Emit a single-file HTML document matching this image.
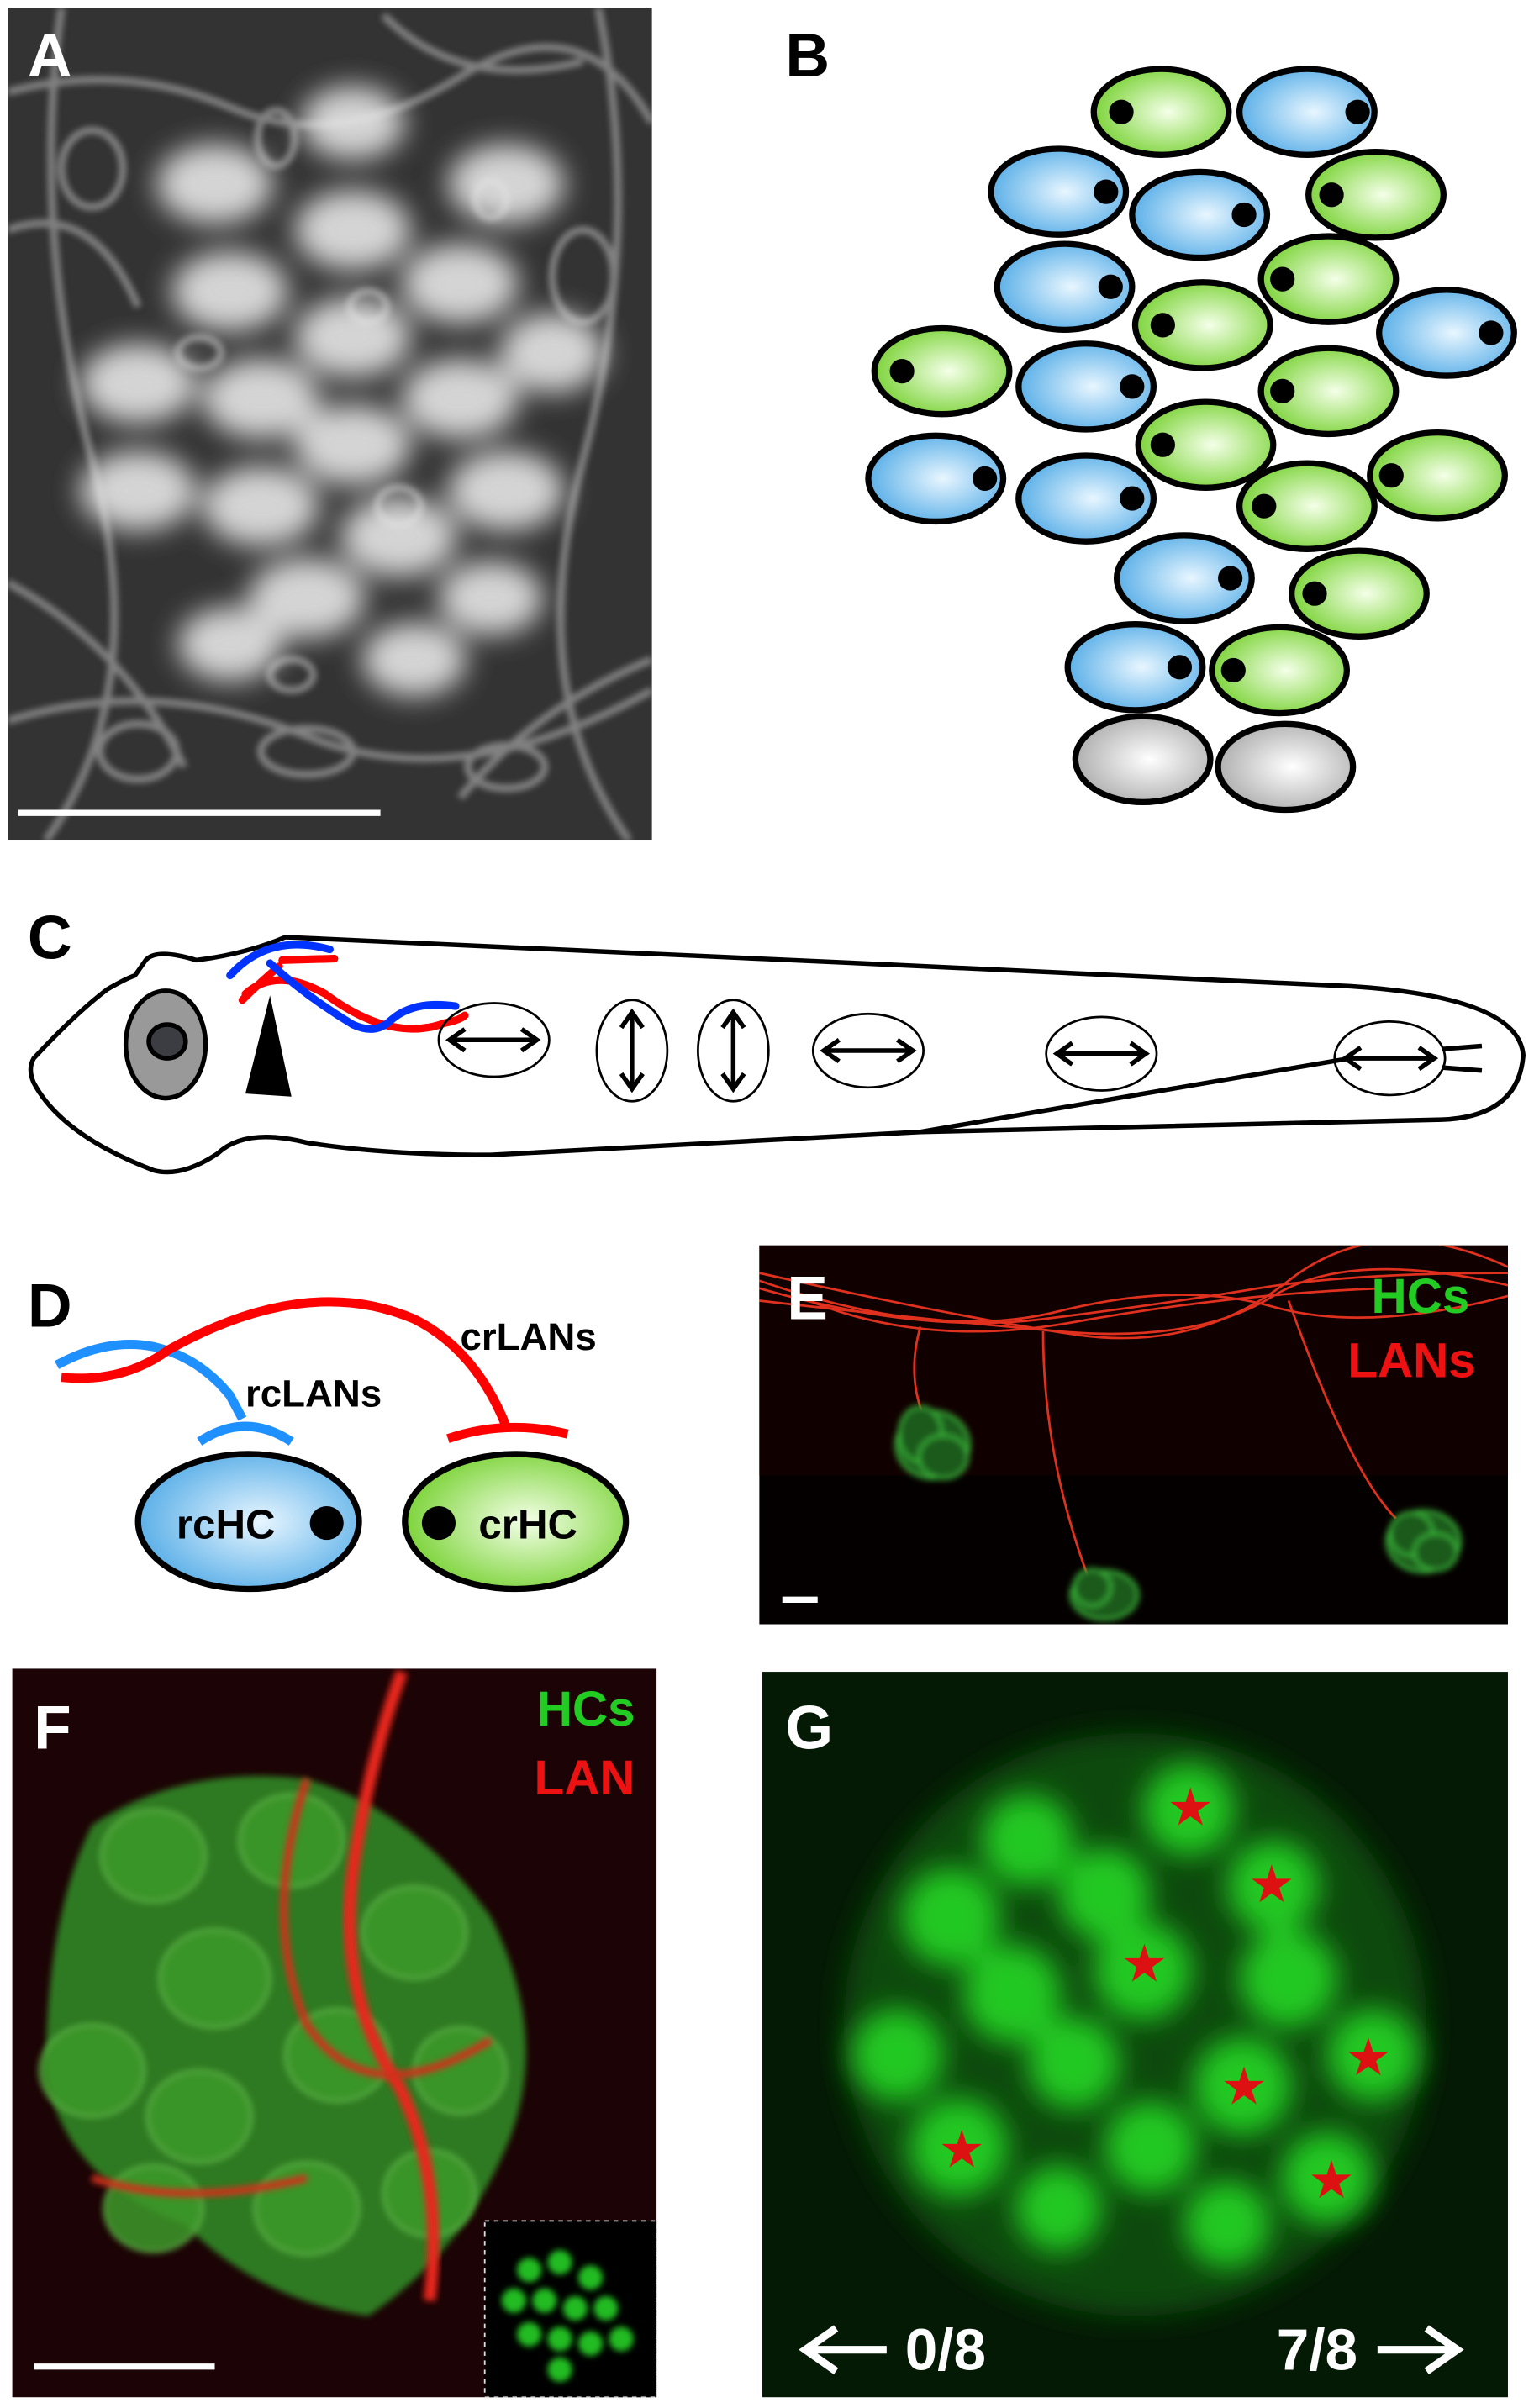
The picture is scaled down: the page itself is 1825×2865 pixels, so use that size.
<!DOCTYPE html>
<html><head><meta charset="utf-8"><style>html,body{margin:0;padding:0;background:#fff}svg{display:block}</style></head><body>
<svg width="1825" height="2865" viewBox="0 0 1000 1570" preserveAspectRatio="none" xmlns="http://www.w3.org/2000/svg" font-family="Liberation Sans, sans-serif">
<defs>
<filter id="bl" x="-20%" y="-20%" width="140%" height="140%"><feGaussianBlur stdDeviation="9"/></filter>
<filter id="bl2"><feGaussianBlur stdDeviation="4"/></filter>
<filter id="bl3"><feGaussianBlur stdDeviation="2"/></filter>
<radialGradient id="gb" cx="0.55" cy="0.5" r="0.55"><stop offset="0" stop-color="#e8f6ff"/><stop offset="1" stop-color="#5cb0e8"/></radialGradient>
<radialGradient id="gg" cx="0.55" cy="0.5" r="0.55"><stop offset="0" stop-color="#f4ffe8"/><stop offset="1" stop-color="#7ed43c"/></radialGradient>
<radialGradient id="gw" cx="0.55" cy="0.5" r="0.55"><stop offset="0" stop-color="#ffffff"/><stop offset="1" stop-color="#b0b0b0"/></radialGradient>
<clipPath id="ca"><rect x="5" y="5" width="420" height="543"/></clipPath>
<clipPath id="cf"><rect x="8" y="1088" width="420" height="475"/></clipPath>
<clipPath id="cg"><rect x="497" y="1090" width="486" height="473"/></clipPath>
<clipPath id="ce"><rect x="495" y="812" width="488" height="247"/></clipPath>
</defs>

<!-- Panel A -->
<rect x="5" y="5" width="420" height="543" fill="#333"/>
<g clip-path="url(#ca)">
<g stroke="#8a8a8a" stroke-width="5" fill="none" filter="url(#bl3)" opacity="0.9">
<path d="M5 60 Q80 40 150 70 T300 50 T425 80"/><path d="M5 470 Q100 440 200 480 T425 450"/>
<path d="M40 5 Q20 150 60 300 T30 548"/><path d="M390 5 Q420 150 380 300 T410 548"/>
<path d="M5 150 Q60 130 90 200"/><path d="M5 380 Q80 420 120 500"/><path d="M300 520 Q350 460 425 430"/>
<path d="M250 10 Q300 60 380 40"/><ellipse cx="200" cy="490" rx="30" ry="15"/><ellipse cx="90" cy="490" rx="25" ry="18"/>
<ellipse cx="330" cy="500" rx="25" ry="14"/><ellipse cx="60" cy="110" rx="20" ry="25"/><ellipse cx="380" cy="180" rx="20" ry="30"/>
<ellipse cx="180" cy="90" rx="12" ry="18"/><ellipse cx="320" cy="130" rx="10" ry="12"/><ellipse cx="240" cy="200" rx="12" ry="10"/>
<ellipse cx="130" cy="230" rx="14" ry="10"/><ellipse cx="260" cy="330" rx="14" ry="12"/><ellipse cx="190" cy="440" rx="14" ry="10"/>
</g>
<g fill="#e6e6e6" filter="url(#bl)" opacity="0.9">
<ellipse cx="230" cy="80" rx="34" ry="24"/><ellipse cx="330" cy="120" rx="38" ry="26"/><ellipse cx="140" cy="120" rx="38" ry="26"/>
<ellipse cx="230" cy="150" rx="38" ry="26"/><ellipse cx="150" cy="190" rx="38" ry="26"/><ellipse cx="300" cy="185" rx="38" ry="26"/>
<ellipse cx="230" cy="220" rx="38" ry="26"/><ellipse cx="90" cy="250" rx="38" ry="26"/><ellipse cx="360" cy="230" rx="34" ry="26"/>
<ellipse cx="170" cy="260" rx="38" ry="26"/><ellipse cx="300" cy="260" rx="38" ry="26"/><ellipse cx="230" cy="290" rx="38" ry="26"/>
<ellipse cx="90" cy="320" rx="38" ry="26"/><ellipse cx="170" cy="330" rx="38" ry="26"/><ellipse cx="330" cy="320" rx="38" ry="26"/>
<ellipse cx="260" cy="350" rx="38" ry="26"/><ellipse cx="200" cy="390" rx="38" ry="26"/><ellipse cx="320" cy="390" rx="34" ry="24"/>
<ellipse cx="150" cy="420" rx="34" ry="24"/><ellipse cx="270" cy="430" rx="34" ry="24"/>
</g>
</g>
<line x1="12" y1="530" x2="248" y2="530" stroke="#fff" stroke-width="4"/>
<text x="18" y="50" font-size="40" font-weight="bold" fill="#fff">A</text>

<!-- Panel B -->
<text x="512" y="50" font-size="40" font-weight="bold">B</text>
<g stroke="#000" stroke-width="4">
<ellipse cx="757" cy="73" rx="44" ry="28" fill="url(#gg)"/><ellipse cx="852" cy="73" rx="44" ry="28" fill="url(#gb)"/>
<ellipse cx="690" cy="125" rx="44" ry="28" fill="url(#gb)"/><ellipse cx="782" cy="140" rx="44" ry="28" fill="url(#gb)"/>
<ellipse cx="897" cy="127" rx="44" ry="28" fill="url(#gg)"/><ellipse cx="694" cy="187" rx="44" ry="28" fill="url(#gb)"/>
<ellipse cx="866" cy="182" rx="44" ry="28" fill="url(#gg)"/><ellipse cx="784" cy="212" rx="44" ry="28" fill="url(#gg)"/>
<ellipse cx="943" cy="217" rx="44" ry="28" fill="url(#gb)"/><ellipse cx="614" cy="242" rx="44" ry="28" fill="url(#gg)"/>
<ellipse cx="708" cy="252" rx="44" ry="28" fill="url(#gb)"/><ellipse cx="866" cy="255" rx="44" ry="28" fill="url(#gg)"/>
<ellipse cx="786" cy="290" rx="44" ry="28" fill="url(#gg)"/><ellipse cx="610" cy="312" rx="44" ry="28" fill="url(#gb)"/>
<ellipse cx="708" cy="325" rx="44" ry="28" fill="url(#gb)"/><ellipse cx="937" cy="310" rx="44" ry="28" fill="url(#gg)"/>
<ellipse cx="852" cy="330" rx="44" ry="28" fill="url(#gg)"/><ellipse cx="772" cy="377" rx="44" ry="28" fill="url(#gb)"/>
<ellipse cx="886" cy="387" rx="44" ry="28" fill="url(#gg)"/><ellipse cx="740" cy="435" rx="44" ry="28" fill="url(#gb)"/>
<ellipse cx="834" cy="437" rx="44" ry="28" fill="url(#gg)"/><ellipse cx="745" cy="495" rx="44" ry="28" fill="url(#gw)"/>
<ellipse cx="838" cy="500" rx="44" ry="28" fill="url(#gw)"/>
</g>
<g fill="#000">
<circle cx="731" cy="73" r="8"/><circle cx="885" cy="73" r="8"/><circle cx="721" cy="125" r="8"/><circle cx="811" cy="140" r="8"/>
<circle cx="868" cy="127" r="8"/><circle cx="724" cy="187" r="8"/><circle cx="836" cy="182" r="8"/><circle cx="758" cy="212" r="8"/>
<circle cx="972" cy="217" r="8"/><circle cx="588" cy="242" r="8"/><circle cx="738" cy="252" r="8"/><circle cx="836" cy="255" r="8"/>
<circle cx="758" cy="290" r="8"/><circle cx="642" cy="312" r="8"/><circle cx="738" cy="325" r="8"/><circle cx="907" cy="310" r="8"/>
<circle cx="824" cy="330" r="8"/><circle cx="802" cy="377" r="8"/><circle cx="857" cy="387" r="8"/><circle cx="769" cy="435" r="8"/>
<circle cx="804" cy="437" r="8"/>
</g>

<!-- Panel C -->
<text x="18" y="625" font-size="40" font-weight="bold">C</text>
<path d="M22 690 Q50 660 70 645 Q82 638 88 636 L95 626 Q102 618 128 626 Q160 622 186 611 L560 628 L880 643 Q990 650 993 688 Q990 728 940 730 L600 738 L320 753 Q250 753 200 745 Q160 735 142 752 Q118 768 100 763 Q40 740 22 706 Q18 697 22 690 Z" fill="none" stroke="#000" stroke-width="3"/>
<path d="M600 738 L880 690" fill="none" stroke="#000" stroke-width="3"/>
<ellipse cx="108" cy="681" rx="26" ry="35" fill="#999" stroke="#000" stroke-width="3"/>
<ellipse cx="109" cy="679" rx="12" ry="11" fill="#3c3d42" stroke="#000" stroke-width="3"/>
<polygon points="176,649 190,715 160,713" fill="#000"/>
<path d="M158 652 Q170 640 182 630 M184 626 L218 625" stroke="#f00" stroke-width="5" fill="none" stroke-linecap="round"/>
<path d="M160 648 Q180 630 212 648 Q255 680 290 667 Q300 665 303 662" stroke="#f00" stroke-width="5" fill="none" stroke-linecap="round"/>
<path d="M150 636 Q175 608 215 619 M176 628 Q200 650 230 668 Q245 675 255 665 Q270 652 297 656" stroke="#03f" stroke-width="5" fill="none" stroke-linecap="round"/>
<g stroke="#000" stroke-width="1.5" fill="none">
<ellipse cx="322" cy="678" rx="36" ry="24"/><ellipse cx="412" cy="685" rx="23" ry="33"/><ellipse cx="478" cy="685" rx="23" ry="33"/>
<ellipse cx="566" cy="685" rx="36" ry="24"/><ellipse cx="718" cy="687" rx="36" ry="24"/><ellipse cx="906" cy="690" rx="36" ry="24"/>
</g>
<g stroke="#000" stroke-width="3" fill="none">
<path d="M293 678 H350 M303 671 L293 678 L303 685 M340 671 L350 678 L340 685"/>
<path d="M412 660 V710 M405 670 L412 660 L419 670 M405 700 L412 710 L419 700"/>
<path d="M478 660 V710 M471 670 L478 660 L485 670 M471 700 L478 710 L485 700"/>
<path d="M537 685 H595 M547 678 L537 685 L547 692 M585 678 L595 685 L585 692"/>
<path d="M689 687 H747 M699 680 L689 687 L699 694 M737 680 L747 687 L737 694"/>
<path d="M877 690 H935 M887 683 L877 690 L887 697 M925 683 L935 690 L925 697"/>
<path d="M940 684 L966 682 M940 696 L966 698"/>
</g>

<!-- Panel D -->
<text x="18" y="865" font-size="40" font-weight="bold">D</text>
<path d="M37 890 Q70 872 100 878 Q130 885 150 910 L158 925" stroke="#1e90ff" stroke-width="6" fill="none"/>
<path d="M130 940 Q160 920 190 940" stroke="#1e90ff" stroke-width="6" fill="none"/>
<path d="M40 898 Q80 902 110 880 Q200 830 270 860 Q310 880 330 930" stroke="#f00" stroke-width="6" fill="none"/>
<path d="M292 938 Q330 925 370 935" stroke="#f00" stroke-width="6" fill="none"/>
<text x="300" y="880" font-size="25" font-weight="bold">crLANs</text>
<text x="160" y="917" font-size="25" font-weight="bold">rcLANs</text>
<ellipse cx="162" cy="992" rx="72" ry="44" fill="url(#gb)" stroke="#000" stroke-width="4"/>
<circle cx="213" cy="993" r="11"/>
<text x="115" y="1003" font-size="27" font-weight="bold">rcHC</text>
<ellipse cx="336" cy="992" rx="72" ry="44" fill="url(#gg)" stroke="#000" stroke-width="4"/>
<circle cx="286" cy="993" r="11"/>
<text x="312" y="1003" font-size="27" font-weight="bold">crHC</text>

<!-- Panel E -->
<rect x="495" y="812" width="488" height="247" fill="#050000"/>
<rect x="495" y="812" width="488" height="150" fill="#110000"/>
<g clip-path="url(#ce)">
<g stroke="#e0301e" stroke-width="1.5" fill="none">
<path d="M495 840 Q600 870 680 860 T820 840 T983 830"/><path d="M495 848 Q600 860 690 868 T830 845 T983 838"/>
<path d="M495 835 Q610 875 690 855 T830 852 T983 845"/><path d="M495 830 Q620 858 700 870 T840 835 T983 826"/>
<path d="M520 845 Q600 880 700 862 T900 840"/>
<path d="M600 865 Q590 900 605 930"/><path d="M680 868 Q680 950 710 1030"/><path d="M840 848 Q880 960 910 990"/>
</g>
<g stroke="#3fc53f" stroke-width="1.5" fill="#1a5a1a" filter="url(#bl3)">
<ellipse cx="608" cy="942" rx="24" ry="22"/><ellipse cx="600" cy="935" rx="14" ry="18"/><ellipse cx="615" cy="950" rx="16" ry="14"/>
<ellipse cx="720" cy="1040" rx="22" ry="16"/><ellipse cx="712" cy="1035" rx="12" ry="12"/>
<ellipse cx="928" cy="1005" rx="24" ry="20"/><ellipse cx="920" cy="1000" rx="14" ry="14"/><ellipse cx="936" cy="1012" rx="14" ry="12"/>
</g>
</g>
<text x="513" y="860" font-size="40" font-weight="bold" fill="#fff">E</text>
<text x="958" y="856" font-size="32" font-weight="bold" text-anchor="end" fill="#22cc22">HCs</text>
<text x="962" y="898" font-size="32" font-weight="bold" text-anchor="end" fill="#ee1111">LANs</text>
<line x1="510" y1="1043" x2="533" y2="1043" stroke="#fff" stroke-width="4"/>

<!-- Panel F -->
<rect x="8" y="1088" width="420" height="475" fill="#1c0305"/>
<g clip-path="url(#cf)">
<g fill="#2e7a22" filter="url(#bl3)">
<path d="M60 1190 Q120 1150 200 1160 Q270 1180 320 1250 Q360 1330 330 1400 Q300 1470 240 1510 Q170 1500 120 1450 Q40 1420 30 1350 Q30 1250 60 1190 Z"/>
</g>
<g fill="#3c9a2c" stroke="#62b84a" stroke-width="2" filter="url(#bl3)" opacity="0.85">
<ellipse cx="100" cy="1210" rx="34" ry="30"/><ellipse cx="190" cy="1200" rx="34" ry="30"/><ellipse cx="270" cy="1260" rx="34" ry="30"/><ellipse cx="140" cy="1290" rx="36" ry="32"/>
<ellipse cx="60" cy="1350" rx="34" ry="30"/><ellipse cx="130" cy="1380" rx="34" ry="30"/><ellipse cx="220" cy="1340" rx="34" ry="30"/><ellipse cx="300" cy="1350" rx="30" ry="28"/>
<ellipse cx="100" cy="1440" rx="32" ry="28"/><ellipse cx="200" cy="1440" rx="34" ry="30"/><ellipse cx="280" cy="1430" rx="30" ry="28"/>
</g>
<path d="M262 1090 Q240 1150 230 1220 Q220 1300 260 1360 Q290 1420 280 1500" stroke="#e8281e" stroke-width="8" fill="none" filter="url(#bl3)"/>
<path d="M200 1160 Q170 1250 200 1320 Q240 1380 320 1330 M60 1420 Q120 1440 200 1420" stroke="#d0301e" stroke-width="5" fill="none" filter="url(#bl3)"/>
</g>
<rect x="316" y="1448" width="112" height="115" fill="#000" stroke="#ddd" stroke-width="1" stroke-dasharray="3,3"/>
<g fill="#22bb22" filter="url(#bl3)">
<circle cx="345" cy="1480" r="8"/><circle cx="365" cy="1475" r="8"/><circle cx="385" cy="1485" r="8"/><circle cx="335" cy="1500" r="8"/>
<circle cx="355" cy="1500" r="8"/><circle cx="375" cy="1505" r="8"/><circle cx="395" cy="1505" r="8"/><circle cx="345" cy="1522" r="8"/>
<circle cx="365" cy="1525" r="8"/><circle cx="385" cy="1528" r="8"/><circle cx="405" cy="1525" r="8"/><circle cx="365" cy="1545" r="8"/>
</g>
<text x="22" y="1140" font-size="40" font-weight="bold" fill="#fff">F</text>
<text x="414" y="1125" font-size="32" font-weight="bold" text-anchor="end" fill="#22cc22">HCs</text>
<text x="414" y="1170" font-size="32" font-weight="bold" text-anchor="end" fill="#ee1111">LAN</text>
<line x1="22" y1="1543" x2="140" y2="1543" stroke="#fff" stroke-width="4"/>

<!-- Panel G -->
<rect x="497" y="1090" width="486" height="473" fill="#041a04"/>
<g clip-path="url(#cg)">
<ellipse cx="740" cy="1320" rx="190" ry="190" fill="#0b4a0b" filter="url(#bl)"/>
<g fill="#22c822" filter="url(#bl)">
<circle cx="670" cy="1200" r="30"/><circle cx="775" cy="1180" r="30"/><circle cx="620" cy="1250" r="32"/><circle cx="720" cy="1235" r="30"/>
<circle cx="830" cy="1230" r="30"/><circle cx="660" cy="1300" r="32"/><circle cx="745" cy="1285" r="32"/><circle cx="840" cy="1290" r="32"/>
<circle cx="585" cy="1340" r="30"/><circle cx="700" cy="1345" r="30"/><circle cx="810" cy="1360" r="32"/><circle cx="895" cy="1340" r="30"/>
<circle cx="625" cy="1400" r="32"/><circle cx="750" cy="1400" r="30"/><circle cx="865" cy="1420" r="30"/><circle cx="690" cy="1440" r="28"/>
<circle cx="800" cy="1450" r="28"/>
</g>
</g>
<g fill="#dd1111" font-size="34" text-anchor="middle">
<text x="776" y="1190">★</text><text x="829" y="1240">★</text><text x="746" y="1292">★</text><text x="892" y="1353">★</text>
<text x="811" y="1372">★</text><text x="627" y="1413">★</text><text x="868" y="1433">★</text>
</g>
<text x="512" y="1140" font-size="40" font-weight="bold" fill="#fff">G</text>
<g stroke="#fff" stroke-width="5" fill="none">
<path d="M525 1532 H578 M545 1518 L525 1532 L545 1546"/>
<path d="M898 1532 H950 M930 1518 L950 1532 L930 1546"/>
</g>
<text x="590" y="1545" font-size="38" font-weight="bold" fill="#fff">0/8</text>
<text x="885" y="1545" font-size="38" font-weight="bold" fill="#fff" text-anchor="end">7/8</text>
</svg>
</body></html>
